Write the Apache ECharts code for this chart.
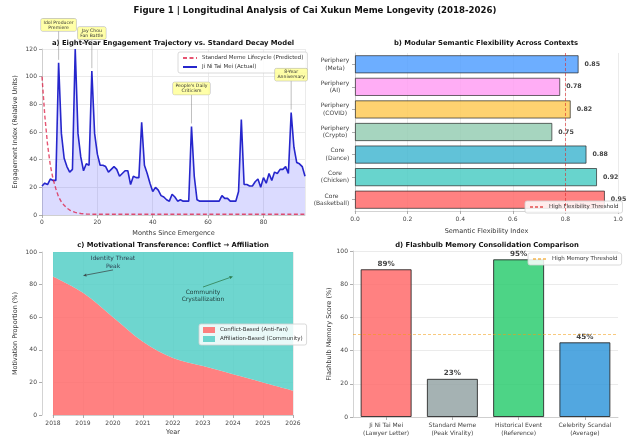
<!DOCTYPE html>
<html>
<head>
<meta charset="utf-8">
<script src="https://cdn.jsdelivr.net/npm/echarts@6/dist/echarts.min.js"></script>
<style>
  html, body { margin: 0; padding: 0; background: #fff; }
  #chart { width: 630px; height: 437px; }
</style>
</head>
<body>
<div id="chart"></div>
<script>
const FONT = "DejaVu Sans";

// a) engagement trajectory, one value per month since emergence (0..95)
const engagement = [
  21, 23, 22, 26, 25, 25, 110, 59, 41, 35, 31, 33,
  120, 59, 42, 32, 37, 36, 104, 59, 44, 36, 36, 35,
  31, 33, 35, 33, 28, 30, 32, 32, 22, 28, 27, 27,
  67, 36, 30, 23, 17, 20, 18, 14, 13, 11, 10, 15,
  13, 10, 11, 10, 10, 10, 64, 28, 11, 10, 10, 10,
  10, 10, 10, 10, 10, 14, 12, 12, 10, 10, 10, 17,
  69, 22, 22, 21, 21, 24, 26, 20, 27, 23, 30, 25,
  31, 30, 33, 33, 35, 30, 74, 49, 38, 37, 35, 28,
];
const decay = [
  100, 72, 51, 36, 26, 19, 13, 9.5, 7, 5, 3.6, 2.6,
  1.9, 1.4, 1.1, 0.9, 0.7, 0.6, 0.5, 0.5, 0.5, 0.5, 0.5, 0.5,
  0.5, 0.5, 0.5, 0.5, 0.5, 0.5, 0.5, 0.5, 0.5, 0.5, 0.5, 0.5,
  0.5, 0.5, 0.5, 0.5, 0.5, 0.5, 0.5, 0.5, 0.5, 0.5, 0.5, 0.5,
  0.5, 0.5, 0.5, 0.5, 0.5, 0.5, 0.5, 0.5, 0.5, 0.5, 0.5, 0.5,
  0.5, 0.5, 0.5, 0.5, 0.5, 0.5, 0.5, 0.5, 0.5, 0.5, 0.5, 0.5,
  0.5, 0.5, 0.5, 0.5, 0.5, 0.5, 0.5, 0.5, 0.5, 0.5, 0.5, 0.5,
  0.5, 0.5, 0.5, 0.5, 0.5, 0.5, 0.5, 0.5, 0.5, 0.5, 0.5, 0.5,
];
const eventMonths = [6, 18, 54, 90];
const eventLabels = ["Idol Producer\nPremiere", "Jay Chou\nFan Battle", "People's Daily\nCriticism", "8-Year\nAnniversary"];

// b) semantic flexibility
const contextNames = [
  "Core\n(Basketball)", "Core\n(Chicken)", "Core\n(Dance)", "Periphery\n(Crypto)",
  "Periphery\n(COVID)", "Periphery\n(AI)", "Periphery\n(Meta)",
];
const flexValues = [0.95, 0.92, 0.88, 0.75, 0.82, 0.78, 0.85];
const flexColors = ["#ff6b6b", "#4ecdc4", "#45b7d1", "#96ceb4", "#feca57", "#ff9ff3", "#54a0ff"];
const flexThreshold = 0.8;

// c) motivational transference
const years = ["2018", "2019", "2020", "2021", "2022", "2023", "2024", "2025", "2026"];
const conflictShare = [85, 75, 60, 45, 35, 30, 25, 20, 15];
const affiliationShare = [15, 25, 40, 55, 65, 70, 75, 80, 85];

// d) flashbulb memory
const memoryNames = [
  "Ji Ni Tai Mei\n(Lawyer Letter)", "Standard Meme\n(Peak Virality)",
  "Historical Event\n(Reference)", "Celebrity Scandal\n(Average)",
];
const memoryScores = [89, 23, 95, 45];
const memoryColors = ["#ff6b6b", "#95a5a6", "#2ecc71", "#3498db"];
const memoryThreshold = 50;

const tickColor = "#444";
const gridLine = { show: true, lineStyle: { color: "#e6e6e6", width: 0.8 } };
const axisLine = { show: true, lineStyle: { color: "#c8c8c8", width: 0.8 } };
const axisTick = { show: true, length: 3, lineStyle: { color: "#999", width: 0.8 } };
const tickLabel = { color: tickColor, fontSize: 6, fontFamily: FONT };
const nameStyle = { color: "#333", fontSize: 6.5, fontFamily: FONT };

// centre the two-line labels of panel b like matplotlib does
const measureCtx = document.createElement("canvas").getContext("2d");
measureCtx.font = '6px "' + FONT + '"';
const flexRich = {};
contextNames.forEach((name, i) => {
  const w = Math.max(...name.split("\n").map((s) => measureCtx.measureText(s).width));
  flexRich["c" + i] = { width: Math.ceil(w) + 1, align: "center", fontSize: 6, lineHeight: 7.5, color: tickColor, fontFamily: FONT };
});

const chart = echarts.init(document.getElementById("chart"), null, { renderer: "canvas" });

function legendBase(extra) {
  return Object.assign({
    orient: "vertical",
    backgroundColor: "rgba(255,255,255,0.85)",
    borderColor: "#d0d0d0",
    borderWidth: 0.8,
    borderRadius: 2,
    padding: [3, 4],
    itemGap: 3,
    itemWidth: 14,
    itemHeight: 6,
    itemStyle: { color: "transparent", borderWidth: 0, opacity: 0 },
    textStyle: { color: "#333", fontSize: 5.5, fontFamily: FONT },
  }, extra);
}

function titleText(text, x, y, size) {
  return {
    type: "text",
    x: x,
    y: y,
    silent: true,
    style: {
      text: text,
      fill: "#111",
      font: "bold " + size + 'px "' + FONT + '"',
      align: "center",
      textAlign: "center",
      verticalAlign: "middle",
      textVerticalAlign: "middle",
    },
  };
}

const titles = [
  titleText("Figure 1 | Longitudinal Analysis of Cai Xukun Meme Longevity (2018-2026)", 315, 11, 8.6),
  titleText("a) Eight-Year Engagement Trajectory vs. Standard Decay Model", 173, 43, 6.8),
  titleText("b) Modular Semantic Flexibility Across Contexts", 486, 43, 6.8),
  titleText("c) Motivational Transference: Conflict \u2192 Affiliation", 173, 245, 6.8),
  titleText("d) Flashbulb Memory Consolidation Comparison", 487, 245, 6.8),
];

chart.setOption({
  animation: false,
  backgroundColor: "#fff",
  textStyle: { fontFamily: FONT },
  grid: [
    { left: 42, top: 49, width: 263, height: 166 },
    { left: 355, top: 53, width: 263, height: 158 },
    { left: 53, top: 252, width: 240, height: 165 },
    { left: 353, top: 251, width: 265, height: 166 },
  ],
  xAxis: [
    {
      gridIndex: 0, type: "value", min: 0, max: 95, interval: 20,
      name: "Months Since Emergence", nameLocation: "middle", nameGap: 15, nameTextStyle: nameStyle,
      axisLine: axisLine, axisTick: axisTick, splitLine: gridLine,
      axisLabel: Object.assign({ margin: 4, showMaxLabel: false }, tickLabel),
    },
    {
      gridIndex: 1, type: "value", min: 0, max: 1, interval: 0.2,
      name: "Semantic Flexibility Index", nameLocation: "middle", nameGap: 17, nameTextStyle: nameStyle,
      axisLine: axisLine, axisTick: axisTick, splitLine: gridLine,
      axisLabel: Object.assign({ margin: 5, formatter: (v) => v.toFixed(1) }, tickLabel),
    },
    {
      gridIndex: 2, type: "category", data: years, boundaryGap: false,
      name: "Year", nameLocation: "middle", nameGap: 14, nameTextStyle: nameStyle,
      axisLine: axisLine, axisTick: axisTick,
      splitLine: Object.assign({ interval: 0 }, gridLine),
      axisLabel: Object.assign({ margin: 5, interval: 0 }, tickLabel),
    },
    {
      gridIndex: 3, type: "category", data: memoryNames,
      axisLine: axisLine, axisTick: Object.assign({ alignWithLabel: true }, axisTick), splitLine: { show: false },
      axisLabel: Object.assign({ margin: 4, lineHeight: 8, interval: 0 }, tickLabel),
    },
  ],
  yAxis: [
    {
      gridIndex: 0, type: "value", min: 0, max: 120, interval: 20,
      name: "Engagement Index (Relative Units)", nameLocation: "middle", nameGap: 23, nameTextStyle: nameStyle,
      axisLine: axisLine, axisTick: axisTick, splitLine: gridLine,
      axisLabel: Object.assign({ margin: 5 }, tickLabel),
    },
    {
      gridIndex: 1, type: "category", data: contextNames,
      axisLine: axisLine, axisTick: Object.assign({ alignWithLabel: true }, axisTick), splitLine: { show: false },
      axisLabel: {
        margin: 5, interval: 0,
        formatter: (value, index) => value.split("\n").map((s) => "{c" + index + "|" + s + "}").join("\n"),
        rich: flexRich,
      },
    },
    {
      gridIndex: 2, type: "value", min: 0, max: 100, interval: 20, offset: 11,
      name: "Motivation Proportion (%)", nameLocation: "middle", nameGap: 23, nameTextStyle: nameStyle,
      axisLine: axisLine, axisTick: axisTick, splitLine: gridLine,
      axisLabel: Object.assign({ margin: 5 }, tickLabel),
    },
    {
      gridIndex: 3, type: "value", min: 0, max: 100, interval: 20,
      name: "Flashbulb Memory Score (%)", nameLocation: "middle", nameGap: 20, nameTextStyle: nameStyle,
      axisLine: axisLine, axisTick: axisTick, splitLine: gridLine,
      axisLabel: Object.assign({ margin: 5 }, tickLabel),
    },
  ],
  legend: [
    legendBase({
      left: 178, top: 52,
      data: ["Standard Meme Lifecycle (Predicted)", "Ji Ni Tai Mei (Actual)"],
    }),
    legendBase({ left: 525, top: 201, data: ["High Flexibility Threshold"] }),
    legendBase({
      left: 199, top: 324, itemWidth: 12, itemHeight: 6, icon: "rect",
      itemStyle: {},
      data: ["Conflict-Based (Anti-Fan)", "Affiliation-Based (Community)"],
    }),
    legendBase({ left: 528, top: 253, data: ["High Memory Threshold"] }),
  ],
  series: [
    {
      name: "Ji Ni Tai Mei (Actual)", type: "line", xAxisIndex: 0, yAxisIndex: 0,
      data: engagement.map((v, i) => [i, v]),
      symbol: "none", z: 2,
      lineStyle: { color: "#2626cc", width: 1.6 },
      itemStyle: { color: "#2626cc" },
      areaStyle: { color: "rgba(40,40,255,0.24)" },
    },
    {
      name: "Standard Meme Lifecycle (Predicted)", type: "line", xAxisIndex: 0, yAxisIndex: 0,
      data: decay.map((v, i) => [i, v]),
      symbol: "none", z: 3,
      lineStyle: { color: "rgba(220,20,60,0.72)", width: 1.4, type: [4, 2.5] },
      itemStyle: { color: "rgba(220,20,60,0.72)" },
    },
    {
      type: "bar", xAxisIndex: 1, yAxisIndex: 1, barWidth: "80%",
      data: flexValues.map((v, i) => ({ value: v, itemStyle: { color: flexColors[i] } })),
      itemStyle: { borderColor: "#222", borderWidth: 0.8, opacity: 0.85 },
      label: {
        show: true, position: "right", distance: 6,
        formatter: (p) => p.value.toFixed(2),
        color: "#222", fontWeight: "bold", fontSize: 6.3, fontFamily: FONT,
      },
    },
    {
      name: "High Flexibility Threshold", type: "line", xAxisIndex: 1, yAxisIndex: 1, data: [],
      symbol: "none",
      lineStyle: { color: "rgba(220,40,40,0.6)", width: 1, type: [3, 2] },
      itemStyle: { color: "rgba(220,40,40,0.6)" },
      markLine: {
        silent: true, symbol: ["none", "none"], label: { show: false },
        lineStyle: { color: "rgba(220,40,40,0.6)", width: 1, type: [3, 2] },
        data: [{ xAxis: flexThreshold }],
      },
    },
    {
      name: "Conflict-Based (Anti-Fan)", type: "line", xAxisIndex: 2, yAxisIndex: 2, stack: "motive",
      data: conflictShare,
      smooth: 0.35, symbol: "none",
      lineStyle: { width: 0 },
      itemStyle: { color: "rgba(255,107,107,0.85)" },
      areaStyle: { color: "rgba(255,107,107,0.85)", opacity: 1 },
    },
    {
      name: "Affiliation-Based (Community)", type: "line", xAxisIndex: 2, yAxisIndex: 2, stack: "motive",
      data: affiliationShare,
      smooth: 0.35, symbol: "none",
      lineStyle: { width: 0 },
      itemStyle: { color: "rgba(78,205,196,0.82)" },
      areaStyle: { color: "rgba(78,205,196,0.82)", opacity: 1 },
    },
    {
      type: "bar", xAxisIndex: 3, yAxisIndex: 3, barWidth: 51,
      data: memoryScores.map((v, i) => ({ value: v, itemStyle: { color: memoryColors[i] } })),
      itemStyle: { borderColor: "#222", borderWidth: 1, opacity: 0.85 },
      label: {
        show: true, position: "top", distance: 2,
        formatter: "{c}%",
        color: "#222", fontWeight: "bold", fontSize: 7.2, fontFamily: FONT,
      },
    },
    {
      name: "High Memory Threshold", type: "line", xAxisIndex: 3, yAxisIndex: 3, data: [],
      symbol: "none",
      lineStyle: { color: "rgba(243,156,18,0.55)", width: 1, type: [3, 2] },
      itemStyle: { color: "rgba(243,156,18,0.55)" },
      markLine: {
        silent: true, symbol: ["none", "none"], label: { show: false },
        lineStyle: { color: "rgba(243,156,18,0.55)", width: 1, type: [3, 2] },
        data: [{ yAxis: memoryThreshold }],
      },
    },
  ],
  graphic: titles,
});

// event call-outs on panel a
const annotations = [];
eventMonths.forEach((m, i) => {
  const peak = chart.convertToPixel({ gridIndex: 0 }, [m, engagement[m]]);
  const boxY = peak[1] - 38;
  annotations.push({
    type: "line", silent: true, z: 10,
    shape: { x1: peak[0], y1: boxY + 6, x2: peak[0], y2: peak[1] - 3 },
    style: { stroke: "rgba(120,120,120,0.6)", lineWidth: 0.8 },
  });
  annotations.push({
    type: "text", x: peak[0], y: boxY, silent: true, z: 11,
    style: {
      text: eventLabels[i],
      font: '4.6px "' + FONT + '"',
      fill: "#333",
      align: "center", textAlign: "center",
      verticalAlign: "middle", textVerticalAlign: "middle",
      lineHeight: 5,
      backgroundColor: "rgba(255,255,153,0.85)",
      borderColor: "#b8b8b8", borderWidth: 0.5, borderRadius: 1.5,
      padding: [1.2, 2.5],
    },
  });
});

// panel c notes with arrows (positions in year index / percent)
const motiveNotes = [
  { text: "Identity Threat\nPeak", at: [2, 93.5], from: [1.5, 89], to: [1.05, 85.5], color: "#2c3e50", arrow: "#3d4f4f" },
  { text: "Community\nCrystallization", at: [5, 73], from: [5.4, 78.5], to: [6, 85], color: "#1f3d3a", arrow: "#2e7d4f" },
];
motiveNotes.forEach((n) => {
  const p = chart.convertToPixel({ gridIndex: 2 }, n.at);
  const a = chart.convertToPixel({ gridIndex: 2 }, n.from);
  const b = chart.convertToPixel({ gridIndex: 2 }, n.to);
  const dx = b[0] - a[0], dy = b[1] - a[1];
  const len = Math.hypot(dx, dy);
  const ux = dx / len, uy = dy / len;
  const hl = 3.5, hw = 1.6;
  annotations.push({
    type: "text", x: p[0], y: p[1], silent: true, z: 11,
    style: {
      text: n.text, font: '6px "' + FONT + '"', fill: n.color,
      align: "center", textAlign: "center",
      verticalAlign: "middle", textVerticalAlign: "middle", lineHeight: 7.5,
    },
  });
  annotations.push({
    type: "line", silent: true, z: 11,
    shape: { x1: a[0], y1: a[1], x2: b[0] - ux * hl, y2: b[1] - uy * hl },
    style: { stroke: n.arrow, lineWidth: 0.8 },
  });
  annotations.push({
    type: "polygon", silent: true, z: 11,
    shape: {
      points: [
        [b[0], b[1]],
        [b[0] - ux * hl - uy * hw, b[1] - uy * hl + ux * hw],
        [b[0] - ux * hl + uy * hw, b[1] - uy * hl - ux * hw],
      ],
    },
    style: { fill: n.arrow },
  });
});

chart.setOption({ graphic: titles.concat(annotations) });
</script>
</body>
</html>
